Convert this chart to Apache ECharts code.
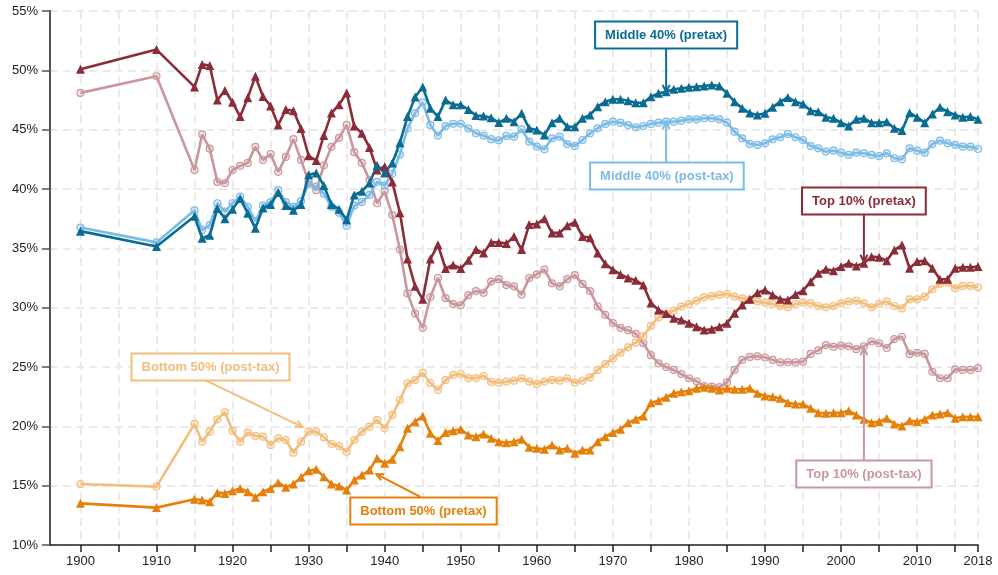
<!DOCTYPE html>
<html><head><meta charset="utf-8">
<script src="https://cdn.jsdelivr.net/npm/echarts@6/dist/echarts.min.js"></script>
<style>html,body{margin:0;padding:0;background:#fff}#c{width:998px;height:575px}</style>
</head><body><div id="c"></div>
<script>
const years = [1900,1910,
 1915,1916,1917,1918,1919,
 1920,1921,1922,1923,1924,1925,1926,1927,1928,1929,
 1930,1931,1932,1933,1934,1935,1936,1937,1938,1939,
 1940,1941,1942,1943,1944,1945,1946,1947,1948,1949,
 1950,1951,1952,1953,1954,1955,1956,1957,1958,1959,
 1960,1961,1962,1963,1964,1965,1966,1967,1968,1969,
 1970,1971,1972,1973,1974,1975,1976,1977,1978,1979,
 1980,1981,1982,1983,1984,1985,1986,1987,1988,1989,
 1990,1991,1992,1993,1994,1995,1996,1997,1998,1999,
 2000,2001,2002,2003,2004,2005,2006,2007,2008,2009,
 2010,2011,2012,2013,2014,2015,2016,2017,2018];

const top10Pretax = [50.1,51.75,
 48.6,50.5,50.4,47.5,48.3,
 47.3,46.1,47.7,49.5,47.8,47.0,45.4,46.7,46.6,45.1,
 42.8,42.4,44.5,46.4,47.1,48.1,45.3,44.7,43.5,41.6,
 41.9,40.6,38.0,34.1,31.8,30.7,34.1,35.3,33.3,33.6,
 33.3,34.0,34.9,34.6,35.5,35.5,35.4,36.0,34.9,37.0,
 37.05,37.5,36.3,36.3,36.9,37.2,36.0,35.9,34.6,33.7,
 33.2,32.8,32.5,32.3,31.9,30.4,29.8,29.5,29.1,28.96,
 28.68,28.4,28.12,28.18,28.4,28.68,29.52,30.23,30.7,31.26,
 31.49,31.07,30.7,30.65,31.12,31.43,32.19,32.89,33.23,33.12,
 33.46,33.74,33.51,33.74,34.3,34.24,33.96,34.86,35.28,33.32,
 33.88,33.96,33.32,32.39,32.39,33.32,33.4,33.4,33.46];

const top10Posttax = [48.1,49.5,
 41.6,44.6,43.4,40.6,40.5,
 41.6,41.95,42.2,43.55,42.45,42.95,41.45,42.7,44.2,42.45,
 40.6,39.9,42.0,43.55,44.3,45.4,43.1,42.2,40.75,38.8,
 39.8,37.8,34.9,31.2,29.5,28.3,30.9,32.5,30.8,30.3,
 30.2,31.05,31.4,31.25,32.2,32.4,31.9,31.8,31.1,32.5,
 32.8,33.2,32.05,31.8,32.4,32.75,32.0,31.4,30.1,29.4,
 28.7,28.3,28.1,27.8,27.0,26.0,25.3,25.0,24.75,24.4,
 24.05,23.8,23.4,23.35,23.3,23.7,24.75,25.6,25.85,25.9,
 25.8,25.6,25.4,25.4,25.4,25.45,26.1,26.4,26.85,26.7,
 26.8,26.75,26.5,26.75,27.15,27.0,26.6,27.35,27.55,26.1,
 26.2,26.1,24.6,24.05,24.05,24.8,24.75,24.75,24.9];

const middle40Pretax = [36.45,35.15,
 37.7,35.85,36.1,38.35,37.5,
 38.3,39.2,37.95,36.7,38.4,38.7,39.7,38.6,38.2,38.7,
 41.2,41.35,40.3,38.7,38.3,37.4,39.5,39.8,40.5,42.0,
 41.35,42.2,43.9,46.1,47.75,48.6,46.8,46.1,47.5,47.1,
 47.1,46.7,46.2,46.15,46.0,45.6,45.96,45.67,46.38,45.11,
 44.97,44.55,45.59,45.96,45.25,45.25,45.96,46.24,46.94,47.36,
 47.56,47.56,47.44,47.27,47.27,47.78,48.06,48.2,48.4,48.49,
 48.57,48.62,48.68,48.76,48.68,48.06,47.36,46.8,46.4,46.24,
 46.38,46.88,47.36,47.72,47.36,47.16,46.6,46.52,46.04,45.96,
 45.59,45.31,45.87,45.96,45.59,45.59,45.67,45.11,44.92,46.43,
 46.04,45.59,46.32,46.88,46.52,46.24,46.04,46.1,45.87];

const middle40Posttax = [36.75,35.5,
 38.2,36.55,36.95,38.8,38.1,
 38.8,39.35,38.5,37.3,38.6,38.9,39.9,38.9,38.5,39.0,
 40.4,40.2,39.6,38.5,38.0,36.9,38.6,38.9,39.5,40.6,
 40.3,41.3,42.9,45.1,46.4,47.3,45.4,44.5,45.3,45.5,
 45.5,45.1,44.7,44.5,44.2,44.1,44.47,44.41,45.03,43.99,
 43.57,43.35,44.27,44.41,43.79,43.62,44.13,44.69,45.11,45.48,
 45.67,45.59,45.39,45.2,45.31,45.48,45.59,45.67,45.67,45.76,
 45.87,45.87,45.96,45.96,45.87,45.59,44.83,44.27,43.8,43.71,
 43.85,44.19,44.36,44.64,44.36,44.13,43.62,43.43,43.15,43.23,
 43.06,42.87,43.06,43.01,42.87,42.78,43.01,42.59,42.5,43.43,
 43.23,43.06,43.79,44.07,43.85,43.71,43.57,43.57,43.37];

const bottom50Pretax = [13.51,13.15,
 13.85,13.79,13.65,14.41,14.35,
 14.58,14.77,14.49,14.02,14.49,14.77,15.25,14.86,15.14,15.7,
 16.26,16.38,15.76,15.14,14.97,14.64,15.48,15.9,16.32,17.31,
 16.88,17.22,18.29,19.83,20.39,20.87,19.41,18.8,19.47,19.63,
 19.75,19.27,19.13,19.36,18.99,18.71,18.62,18.71,18.91,18.24,
 18.15,18.07,18.43,18.01,18.15,17.73,18.01,18.01,18.71,19.13,
 19.47,19.75,20.31,20.59,20.87,21.99,22.16,22.45,22.78,22.92,
 23.0,23.2,23.29,23.2,23.06,23.2,23.12,23.12,23.2,22.78,
 22.56,22.5,22.36,21.99,21.88,21.88,21.52,21.15,21.1,21.15,
 21.15,21.32,20.96,20.59,20.31,20.39,20.68,20.2,20.03,20.48,
 20.39,20.59,20.96,21.04,21.15,20.68,20.81,20.81,20.81];

const bottom50Posttax = [15.14,14.92,
 20.2,18.71,19.55,20.59,21.18,
 19.63,18.71,19.47,19.19,19.13,18.43,18.99,18.85,17.78,18.71,
 19.55,19.55,19.08,18.51,18.34,17.86,18.85,19.55,19.97,20.53,
 19.83,20.96,22.22,23.63,23.9,24.5,23.65,23.06,23.9,24.33,
 24.41,24.07,24.07,24.24,23.74,23.68,23.77,23.85,24.05,23.77,
 23.57,23.77,23.9,23.85,24.05,23.68,23.85,24.13,24.75,25.25,
 25.73,26.21,26.66,27.05,27.61,28.46,29.19,29.47,29.75,30.09,
 30.31,30.59,30.87,30.98,31.07,31.15,30.93,30.79,30.65,30.51,
 30.42,30.31,30.14,30.03,30.31,30.42,30.37,30.14,30.03,30.14,
 30.37,30.51,30.59,30.37,30.03,30.31,30.51,30.14,29.94,30.7,
 30.7,30.93,31.55,32.0,32.11,31.63,31.83,31.83,31.72];

const xTickValues = [1900,1905,1910,1915,1920,1925,1930,1935,1940,1945,1950,1955,1960,1965,1970,1975,1980,1985,1990,1995,2000,2005,2010,2015,2018];
const xLabelValues = [1900,1910,1920,1930,1940,1950,1960,1970,1980,1990,2000,2010,2018];

const COL = {
  top10Pre: '#8B2D38', top10Post: '#C9979C',
  mid40Pre: '#0B6C93', mid40Post: '#7CBBE6',
  bot50Pre: '#E5810B', bot50Post: '#F2BE7E'
};

// callouts: label, box centre, arrow start and end (all in data coordinates)
const calloutLabels = ['Middle 40% (pretax)','Middle 40% (post-tax)','Top 10% (pretax)','Top 10% (post-tax)','Bottom 50% (post-tax)','Bottom 50% (pretax)'];
const calloutColors = [COL.mid40Pre, COL.mid40Post, COL.top10Pre, COL.top10Post, COL.bot50Post, COL.bot50Pre];
const calloutBox = [[1977,52.98],[1977.1,41.1],[2003,38.99],[2003,15.98],[1917.1,25.0],[1945.1,12.87]];
const calloutFrom = [[1977,51.88],[1977,42.19],[2003,37.9],[2003,17.16],[1916.4,23.9],[1944.7,14.05]];
const calloutTo = [[1977,48.17],[1977,45.65],[2003,33.85],[2003,26.6],[1929.2,19.94],[1938.9,15.98]];

const FONT = '"Liberation Sans", Arial, sans-serif';
function pair(vals){ return years.map((y,i)=>[y, vals[i]]); }
function fade(hex, a){
  const n = parseInt(hex.slice(1),16);
  return 'rgba('+(n>>16)+','+((n>>8)&255)+','+(n&255)+','+a+')';
}
function pre(name, vals, color){
  return {name, type:'line', data:pair(vals), symbol:'triangle', symbolSize:9,
    lineStyle:{color, width:2.6}, itemStyle:{color}, z:3, animation:false};
}
function post(name, vals, color){
  return {name, type:'line', data:pair(vals), symbol:'circle', symbolSize:7,
    lineStyle:{color, width:2.6}, itemStyle:{color:fade(color,0.25), borderColor:color, borderWidth:1.2}, z:2, animation:false};
}

const chart = echarts.init(document.getElementById('c'));
const gridDash = {type:[8,5], color:'#ebebeb', width:2};
chart.setOption({
  animation:false,
  textStyle:{fontFamily:FONT},
  grid:{left:50, right:20, top:11, bottom:30, containLabel:false},
  xAxis:{type:'value', min:1896, max:2018,
    axisLine:{show:true, lineStyle:{color:'#222', width:1.5}},
    axisTick:{show:true, customValues:xTickValues, length:7, lineStyle:{color:'#222', width:1.5}},
    axisLabel:{customValues:xLabelValues, formatter:v=>String(v), fontSize:13, color:'#222', margin:10, fontFamily:FONT},
    splitLine:{show:true, lineStyle:gridDash}},
  yAxis:{type:'value', min:10, max:55, interval:5,
    axisLine:{show:true, lineStyle:{color:'#555', width:2}},
    axisTick:{show:true, length:8, lineStyle:{color:'#555', width:1.5}},
    axisLabel:{formatter:'{value}%', fontSize:13, color:'#222', margin:12, fontFamily:FONT},
    splitLine:{show:true, lineStyle:gridDash}},
  series:[
    post('Top 10% (post-tax)', top10Posttax, COL.top10Post),
    post('Middle 40% (post-tax)', middle40Posttax, COL.mid40Post),
    post('Bottom 50% (post-tax)', bottom50Posttax, COL.bot50Post),
    pre('Top 10% (pretax)', top10Pretax, COL.top10Pre),
    pre('Middle 40% (pretax)', middle40Pretax, COL.mid40Pre),
    pre('Bottom 50% (pretax)', bottom50Pretax, COL.bot50Pre)
  ]
});

const g = [];
calloutLabels.forEach((label,i)=>{
  const color = calloutColors[i];
  const b = chart.convertToPixel({gridIndex:0}, calloutBox[i]);
  const f = chart.convertToPixel({gridIndex:0}, calloutFrom[i]);
  const t = chart.convertToPixel({gridIndex:0}, calloutTo[i]);
  g.push({type:'line', z:50, shape:{x1:f[0], y1:f[1], x2:t[0], y2:t[1]}, style:{stroke:color, lineWidth:2}});
  const ang = Math.atan2(f[1]-t[1], f[0]-t[0]);
  const L = 8, a = 0.45;
  g.push({type:'polyline', z:50, shape:{points:[
    [t[0]+L*Math.cos(ang+a), t[1]+L*Math.sin(ang+a)], [t[0], t[1]],
    [t[0]+L*Math.cos(ang-a), t[1]+L*Math.sin(ang-a)]]}, style:{stroke:color, lineWidth:2, fill:null}});
  g.push({type:'text', z:60, x:b[0], y:b[1], style:{text:label, font:'bold 13px '+FONT, fill:color,
    align:'center', verticalAlign:'middle', textAlign:'center', textVerticalAlign:'middle',
    backgroundColor:'#fff', borderColor:color, borderWidth:2, padding:[6,9]}});
});
chart.setOption({graphic:g});
</script>
</body></html>
